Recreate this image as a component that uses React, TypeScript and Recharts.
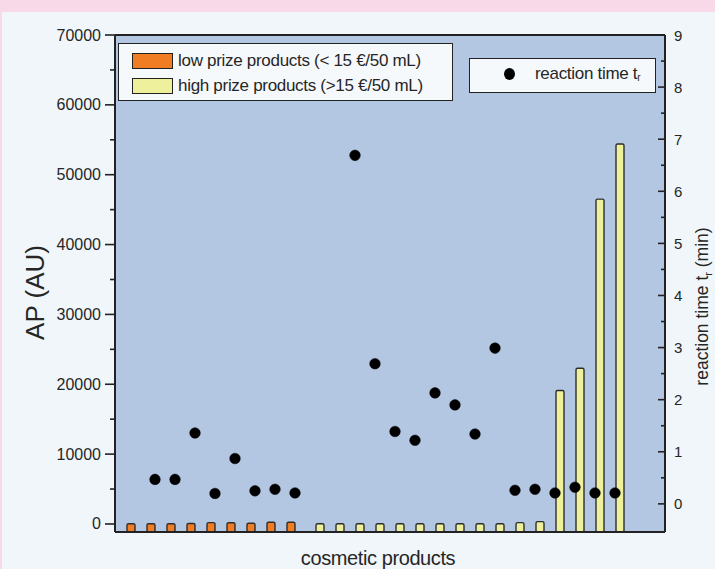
// AP of cosmetic products (bars, left axis) with reaction time t_r (dots, right axis).
import {
  Bar, CartesianGrid, ComposedChart, Label, Legend, Line, ReferenceLine, XAxis, YAxis,
} from "recharts";

const PLOT_BG = "#b3c6e2";
const PAGE_BG = "#f0f6fa";
const PINK = "#f8d9e7";
const AXIS = "#222";
const TEXT = "#262626";
const ORANGE = "#f07c24";
const YELLOW = "#eef09c";
const FONT = "'Liberation Sans', Arial, sans-serif";

// ---- data ----------------------------------------------------------------
const products = [
  "P1", "P2", "P3", "P4", "P5", "P6", "P7", "P8", "P9", "P10", "P11", "P12", "P13",
  "P14", "P15", "P16", "P17", "P18", "P19", "P20", "P21", "P22", "P23", "P24", "P25",
];
const lowPrizeAP = [
  40, 40, 40, 60, 190, 180, 110, 240, 240,
  null, null, null, null, null, null, null, null, null, null, null, null, null, null, null, null,
];
const highPrizeAP = [
  null, null, null, null, null, null, null, null, null,
  30, 30, 30, 30, 30, 30, 30, 30, 30, 30, 190, 330, 19100, 22300, 46500, 54400,
];
const reactionTime = [
  null, 0.47, 0.47, 1.36, 0.2, 0.87, 0.25, 0.28, 0.21, null, null, 6.69, 2.69,
  1.39, 1.22, 2.13, 1.9, 1.34, 2.99, 0.26, 0.28, 0.21, 0.32, 0.21, 0.21,
];
const leftTicks = [0, 5000, 10000, 15000, 20000, 25000, 30000, 35000, 40000, 45000, 50000, 55000, 60000, 65000, 70000];
const rightTicks = [0, 0.5, 1, 1.5, 2, 2.5, 3, 3.5, 4, 4.5, 5, 5.5, 6, 6.5, 7, 7.5, 8, 8.5, 9];

const AP_MIN = -1150;
const AP_MAX = 70000;
const RT_MIN = -0.54;
const RT_MAX = 9;

const rows = products.map((name, i) => ({
  name,
  low: lowPrizeAP[i],
  high: highPrizeAP[i],
  rt: reactionTime[i],
}));

// bars are drawn from the bottom of the frame, as in the original plot
const lowRange = (d: any) => (d.low == null ? null : [AP_MIN, d.low]);
const highRange = (d: any) => (d.high == null ? null : [AP_MIN, d.high]);

// ---- ticks ------------------------------------------------------------------
function LeftTick({ x, y, payload }: any) {
  const major = payload.value % 10000 === 0;
  return (
    <g>
      <line x1={x - (major ? 10 : 5)} x2={x} y1={y} y2={y} stroke={AXIS} strokeWidth={1.6} />
      {major && (
        <text x={x - 14} y={y} dy={5.5} textAnchor="end" fontSize={16} fill={TEXT} fontFamily={FONT}>
          {payload.value}
        </text>
      )}
    </g>
  );
}

function RightTick({ x, y, payload }: any) {
  const major = Number.isInteger(payload.value);
  return (
    <g>
      <line x1={x - (major ? 7 : 4)} x2={x} y1={y} y2={y} stroke={AXIS} strokeWidth={1.6} />
      {major && (
        <text x={x + 9} y={y} dy={5.5} textAnchor="start" fontSize={15} fill={TEXT} fontFamily={FONT}>
          {payload.value}
        </text>
      )}
    </g>
  );
}

// ---- legends (two framed boxes inside the plot) --------------------------
function LegendBoxes() {
  const box = {
    position: "absolute" as const,
    background: "#f6f9fc",
    border: `1.5px solid ${AXIS}`,
    boxSizing: "border-box" as const,
    fontFamily: FONT,
    fontSize: 17,
    color: TEXT,
    letterSpacing: -0.3,
  };
  const row = { position: "absolute" as const, display: "flex", alignItems: "center", whiteSpace: "nowrap" as const };
  const swatch = (c: string) => ({
    width: 41, height: 16, background: c, border: `1.5px solid ${AXIS}`, boxSizing: "border-box" as const, marginRight: 5,
  });
  return (
    <div style={{ position: "absolute", left: 0, top: 0, width: 715, height: 569 }}>
      <div style={{ ...box, left: 118, top: 43, width: 335, height: 58 }}>
        <div style={{ ...row, left: 13, top: 7 }}>
          <span style={swatch(ORANGE)} />low prize products (&lt; 15 €/50 mL)
        </div>
        <div style={{ ...row, left: 13, top: 32 }}>
          <span style={swatch(YELLOW)} />high prize products (&gt;15 €/50 mL)
        </div>
      </div>
      <div style={{ ...box, left: 469, top: 58, width: 187, height: 35 }}>
        <div style={{ ...row, left: 34, top: 5 }}>
          <span style={{ width: 11, height: 12, borderRadius: "50%", background: "#000", marginRight: 20 }} />
          reaction time t<sub style={{ fontSize: 10, position: "relative", top: 3 }}>r</sub>
        </div>
      </div>
    </div>
  );
}

export default function App() {
  return (
    <div style={{ position: "absolute", left: 0, top: 0, width: 715, height: 569, background: PINK }}>
      <div style={{ position: "absolute", left: 2, top: 12, width: 713, height: 557, background: PAGE_BG }} />
      <div style={{ position: "absolute", left: 0, top: 0 }}>
        <ComposedChart
          width={715}
          height={569}
          data={rows}
          margin={{ top: 35, right: 0, bottom: 0, left: 0 }}
          barSize={8}
          barGap={1}
        >
          <CartesianGrid fill={PLOT_BG} horizontal={false} vertical={false} yAxisId="ap" />
          <XAxis
            dataKey="name"
            type="category"
            height={37}
            padding={{ left: 10, right: 40 }}
            tick={false}
            tickLine={false}
            axisLine={{ stroke: AXIS, strokeWidth: 2 }}
          >
            <Label
              content={({ viewBox }: any) => (
                <text
                  x={viewBox.x + viewBox.width / 2 - 12}
                  y={viewBox.y + 33}
                  textAnchor="middle"
                  fontSize={20}
                  fill={TEXT}
                  fontFamily={FONT}
                  letterSpacing={-0.4}
                >
                  cosmetic products
                </text>
              )}
            />
          </XAxis>
          <YAxis
            yAxisId="ap"
            orientation="left"
            width={115}
            type="number"
            domain={[AP_MIN, AP_MAX]}
            ticks={leftTicks}
            interval={0}
            tickSize={0}
            tickMargin={0}
            tickLine={false}
            tick={<LeftTick />}
            axisLine={{ stroke: AXIS, strokeWidth: 2 }}
            allowDataOverflow
          >
            <Label
              content={({ viewBox }: any) => {
                const cx = 44;
                const cy = viewBox.y + viewBox.height / 2 + 9;
                return (
                  <text
                    x={cx}
                    y={cy}
                    transform={`rotate(-90 ${cx} ${cy})`}
                    textAnchor="middle"
                    fontSize={26}
                    fill={TEXT}
                    fontFamily={FONT}
                  >
                    AP (AU)
                  </text>
                );
              }}
            />
          </YAxis>
          <YAxis
            yAxisId="rt"
            orientation="right"
            width={50}
            type="number"
            domain={[RT_MIN, RT_MAX]}
            ticks={rightTicks}
            interval={0}
            tickSize={0}
            tickMargin={0}
            tickLine={false}
            tick={<RightTick />}
            axisLine={{ stroke: AXIS, strokeWidth: 2 }}
            allowDataOverflow
          >
            <Label
              content={({ viewBox }: any) => {
                const cx = viewBox.x + 43;
                const cy = viewBox.y + viewBox.height / 2 + 23;
                return (
                  <text
                    x={cx}
                    y={cy}
                    transform={`rotate(-90 ${cx} ${cy})`}
                    textAnchor="middle"
                    fontSize={17.5}
                    fill={TEXT}
                    fontFamily={FONT}
                  >
                    reaction time t<tspan fontSize={11} dy={4}>r</tspan>
                    <tspan dy={-4}> (min)</tspan>
                  </text>
                );
              }}
            />
          </YAxis>
          <ReferenceLine yAxisId="ap" y={AP_MAX} stroke={AXIS} strokeWidth={2} />
          <Legend
            verticalAlign="middle"
            layout="horizontal"
            wrapperStyle={{ position: "absolute", left: 0, top: 0, width: 715, height: 569 }}
            content={() => <LegendBoxes />}
          />
          <Bar
            yAxisId="ap"
            name="low prize products (< 15 €/50 mL)"
            dataKey={lowRange}
            fill={ORANGE}
            stroke="#2e2e2e"
            strokeWidth={1.4}
            radius={1.5}
            isAnimationActive={false}
          />
          <Bar
            yAxisId="ap"
            name="high prize products (>15 €/50 mL)"
            dataKey={highRange}
            fill={YELLOW}
            stroke="#2e2e2e"
            strokeWidth={1.4}
            radius={1.5}
            isAnimationActive={false}
          />
          <Line
            yAxisId="rt"
            name="reaction time tr"
            dataKey="rt"
            stroke="none"
            strokeWidth={0}
            dot={{ r: 5.3, fill: "#000", stroke: "#000", strokeWidth: 0.5 }}
            activeDot={false}
            isAnimationActive={false}
          />
        </ComposedChart>
      </div>
    </div>
  );
}
